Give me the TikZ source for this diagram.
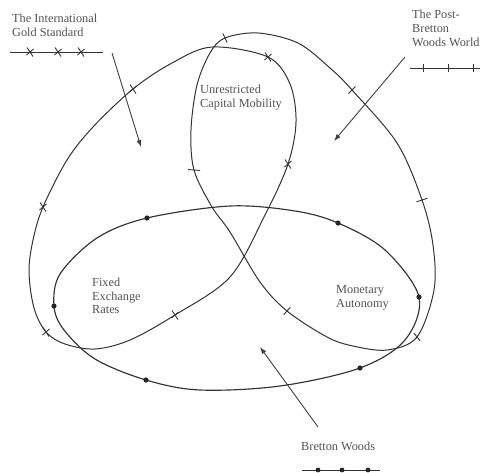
\documentclass[tikz,border=0pt]{standalone}
\usepackage{fontspec}
\setmainfont{Liberation Serif}
\usetikzlibrary{arrows.meta}
\begin{document}
\begin{tikzpicture}[x=1pt,y=-1pt,
  curve/.style={draw=black!80, line width=1pt},
  markline/.style={draw=black!80, line width=0.9pt},
  arr/.style={draw=black!75, line width=0.9pt, -{Latex[length=7pt,width=5pt]}},
  lbl/.style={text=black!68, font=\fontsize{12.3}{13.8}\selectfont, inner sep=0pt, align=left, anchor=north west},
  xmark/.pic={\draw[markline] (-3,-4.5) -- (3,4.5) (-3.5,3) -- (3.5,-3);},
  dotmark/.style={fill=black!85}
]
\useasboundingbox (0,0) rectangle (480,472);

% ---- loops ----
% International Gold Standard loop (x marks)
\draw[curve] plot[smooth cycle, tension=0.55] coordinates {(212,47) (268,57) (290,84) (296,122) (288,164) (265,215) (230,277) (175,315) (130,340) (95,349) (65,344) (46,332) (34,308) (29,272) (33,240) (43,207) (67,160) (93,127) (133,89) (172,63)};
% Post-Bretton Woods loop (ticks)
\draw[curve] plot[smooth cycle, tension=0.55] coordinates {(225,38) (258,33) (298,43) (330,68) (352,90) (397,143) (422,200) (433,245) (434,290) (417,337) (387,350) (353,346) (327,337) (287,311) (260,282) (230,232) (212,207) (194,170) (191,130) (197,85) (210,53)};
% Bretton Woods loop (dots)
\draw[curve, line width=1.15pt] plot[smooth cycle, tension=0.55] coordinates {(147,218) (230,206) (295,211) (338,223) (385,250) (419,297) (405,340) (360,368) (280,386) (200,390) (146,380) (95,359) (64,330) (54,306) (60,274) (97,238)};

% ---- marks ----
\foreach \pt in {(268,57),(288,164),(175,315),(46,332),(43,207),(133,89)}
  \pic at \pt {xmark};
\draw[markline] (225,38) ++(-2.2,-4.5) -- ++(4.4,9);
\draw[markline] (352,90) ++(-3.5,3.5) -- ++(7,-7);
\draw[markline] (422,200) ++(-5.5,1.8) -- ++(11,-3.6);
\draw[markline] (417,337) ++(-3.2,-3.9) -- ++(6.4,7.8);
\draw[markline] (287,311) ++(-3.3,3.7) -- ++(6.6,-7.4);
\draw[markline] (194,170) ++(-6,-0.5) -- ++(12,1);
\foreach \pt in {(147,218),(338,223),(419,297),(360,368),(146,380),(54,306)}
  \fill[dotmark] \pt circle (2.6pt);

% ---- labels ----
\node[lbl] (gold) at (12,13.5) {The International\\Gold Standard};
\node[lbl] (post) at (412,10) {The Post-\\Bretton\\Woods World};
\node[lbl] (cap) at (200,85) {Unrestricted\\Capital Mobility};
\node[lbl] (fix) at (92,277.5) {Fixed\\Exchange\\Rates};
\node[lbl] (mon) at (336,285) {Monetary\\Autonomy};
\node[lbl] (bw) at (301,441.5) {Bretton Woods};

% ---- legend keys ----
\draw[curve] (10,52) -- (103,52);
\foreach \x in {30,58,81} \pic at (\x,52) {xmark};
\draw[curve] (410,68) -- (480,68);
\foreach \x in {423,448,473} \draw[markline] (\x,64) -- (\x,72);
\draw[curve] (302,470) -- (380,470);
\foreach \x in {318,342,368} \fill[dotmark] (\x,470) circle (2.4pt);

% ---- arrows ----
\coordinate (gA) at (112,53); \coordinate (gB) at (141,147);
\coordinate (pA) at (405,57); \coordinate (pB) at (334,141);
\coordinate (bA) at (318,427); \coordinate (bB) at (260,347);
\draw[arr] (gA) -- (gB);
\draw[arr] (pA) -- (pB);
\draw[arr] (bA) -- (bB);
\end{tikzpicture}
\end{document}
